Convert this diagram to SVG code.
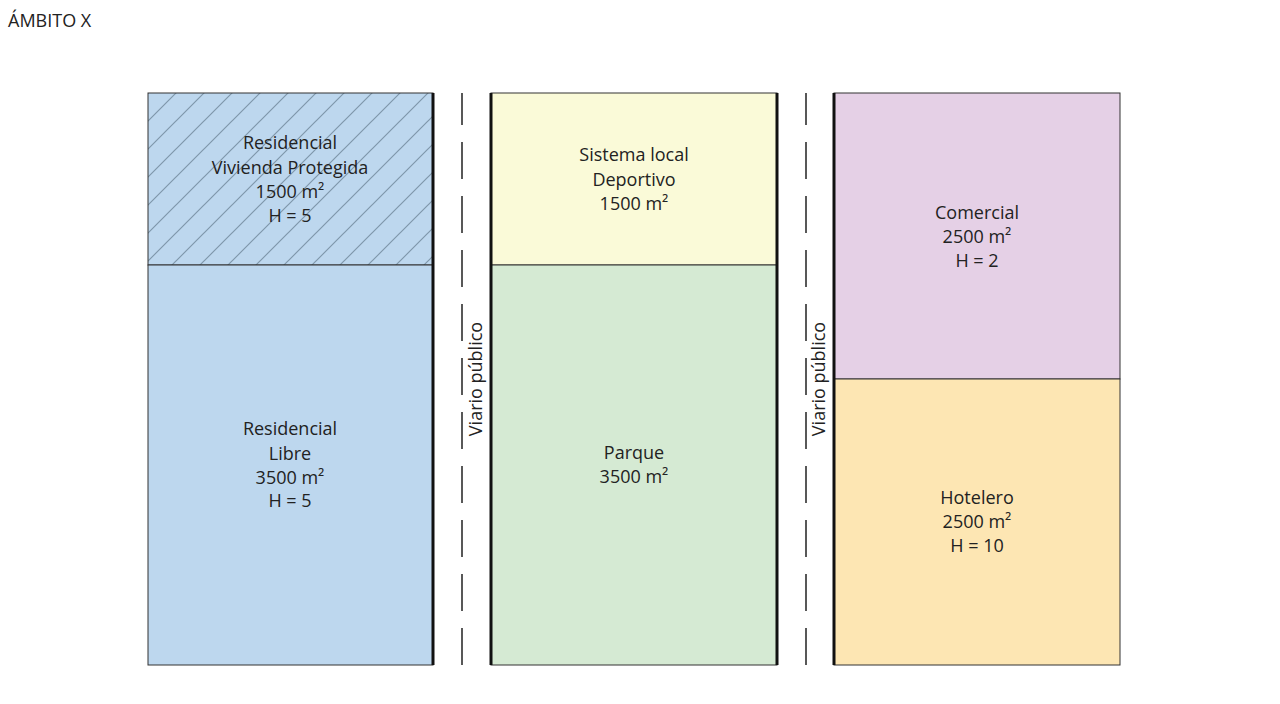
<svg xmlns="http://www.w3.org/2000/svg" width="1280" height="704" viewBox="0 0 1280 704">
<defs>
<pattern id="hatch" patternUnits="userSpaceOnUse" width="28" height="28" x="148" y="93">
<rect width="28" height="28" fill="#bdd7ee"/>
<path d="M-7,7 L7,-7 M0,28 L28,0 M21,35 L35,21" stroke="#7f97ab" stroke-width="1.2"/>
</pattern>
</defs>
<style>
text{font-family:"Open Sans","Liberation Sans",sans-serif;font-size:18px;fill:#222;text-anchor:middle}
.blk{stroke:#333;stroke-width:1}
.edge{stroke:#111;stroke-width:3}
.dash{stroke:#222;stroke-width:1.5;stroke-dasharray:37 17;stroke-dashoffset:5}
</style>
<rect width="1280" height="704" fill="#fff"/>
<text x="8" y="27" style="text-anchor:start">ÁMBITO X</text>
<g id="residencial-protegida"><rect class="blk" x="148" y="93" width="285" height="172" fill="url(#hatch)"/>
<text x="290" y="149">Residencial</text><text x="290" y="174">Vivienda Protegida</text><text x="290" y="198">1500 m²</text><text x="290" y="222">H = 5</text></g>
<g id="residencial-libre"><rect class="blk" x="148" y="265" width="285" height="400" fill="#bdd7ee"/>
<text x="290" y="435">Residencial</text><text x="290" y="460">Libre</text><text x="290" y="484">3500 m²</text><text x="290" y="507">H = 5</text></g>
<g id="deportivo"><rect class="blk" x="491" y="93" width="286" height="172" fill="#fafad8"/>
<text x="634" y="161">Sistema local</text><text x="634" y="186">Deportivo</text><text x="634" y="210">1500 m²</text></g>
<g id="parque"><rect class="blk" x="491" y="265" width="286" height="400" fill="#d5ead3"/>
<text x="634" y="459">Parque</text><text x="634" y="483">3500 m²</text></g>
<g id="comercial"><rect class="blk" x="834" y="93" width="286" height="286" fill="#e5d0e6"/>
<text x="977" y="219">Comercial</text><text x="977" y="243">2500 m²</text><text x="977" y="267">H = 2</text></g>
<g id="hotelero"><rect class="blk" x="834" y="379" width="286" height="286" fill="#fde6b3"/>
<text x="977" y="504">Hotelero</text><text x="977" y="528">2500 m²</text><text x="977" y="552">H = 10</text></g>
<g id="viario1"><rect x="433" y="93" width="58" height="572" fill="#fff"/>
<line class="dash" x1="462" y1="93" x2="462" y2="665"/>
<line class="edge" x1="433" y1="93" x2="433" y2="665"/><line class="edge" x1="491" y1="93" x2="491" y2="665"/>
<rect x="464" y="316" width="24" height="124" fill="#fff"/>
<text transform="translate(482,379) rotate(-90)">Viario público</text></g>
<g id="viario2"><rect x="777" y="93" width="57" height="572" fill="#fff"/>
<line class="dash" x1="806" y1="93" x2="806" y2="665"/>
<line class="edge" x1="777" y1="93" x2="777" y2="665"/><line class="edge" x1="834" y1="93" x2="834" y2="665"/>
<rect x="808" y="316" width="24" height="124" fill="#fff"/>
<text transform="translate(825,379) rotate(-90)">Viario público</text></g>
<g id="connectors"></g>
</svg>
